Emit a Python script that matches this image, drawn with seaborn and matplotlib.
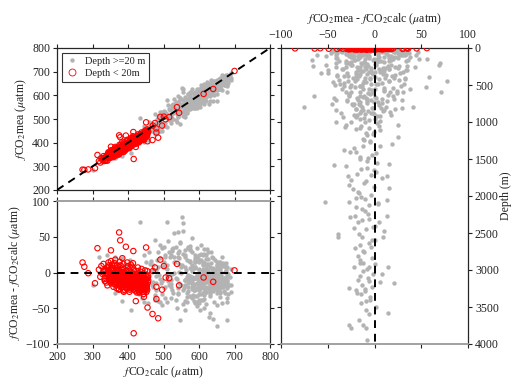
import numpy as np
import pandas as pd
import matplotlib
matplotlib.use("Agg")
import matplotlib.pyplot as plt
from matplotlib.lines import Line2D
import seaborn as sns

# gray points: depth >= 20 m  (fCO2calc, fCO2mea - fCO2calc, depth)
gray_calc = [
    600, 620, 575, 640, 590, 655, 610, 668, 585, 630,
    600, 560, 660, 645, 615, 625, 635, 600, 650, 605,
    660, 612, 640, 670, 655, 620, 600, 680, 615, 645,
    590, 630, 665, 600, 575, 560, 690, 650, 620, 640,
    660, 610, 590, 675, 655, 630, 600, 645, 665, 575,
    640, 610, 595, 660, 625, 585, 600, 645, 630, 680,
    655, 610, 570, 640, 600, 640, 650, 600, 680, 660,
    615, 530, 509, 546, 580, 520, 600, 610, 565, 620,
    551, 554, 542, 620, 632, 613, 520, 560, 600, 575,
    590, 640, 620, 650, 600, 680, 640, 670, 610, 590,
    655, 625, 660, 600, 675, 640, 585, 605, 580, 560,
    540, 530, 570, 510, 600, 545, 630, 645, 615, 590,
    546, 678, 627, 603, 514, 556, 434, 570, 580, 476,
    542, 546, 490, 594, 613, 622, 528, 537, 565, 594,
    664, 641, 509, 490, 674, 678, 495, 317, 364, 406,
    382, 340, 364, 382, 409, 444, 300, 429, 476, 485,
    330, 345, 360, 375, 390, 405, 420, 435, 450, 460,
    470, 480, 490, 500, 510, 520, 530, 540, 550, 560,
    470, 485, 495, 505, 515, 525, 535, 545, 555, 565,
    450, 440, 460, 475, 500, 520, 540, 560, 580, 600,
    590, 610, 620, 630, 640, 650, 660, 670, 680, 690,
    370, 395, 415, 430, 445, 455, 465, 480, 495, 510,
    560, 580, 600, 620, 640, 660, 680, 570, 590, 610,
    630, 650, 670, 590, 610, 630, 650, 670, 600, 620,
    640, 660, 580, 600, 650, 575, 595, 615, 635, 655,
    455, 462, 468, 473, 478, 483, 488, 493, 498, 503,
    508, 513, 518, 523, 528, 533, 538, 543, 548, 553,
    558, 563, 568, 573, 578, 583, 588, 593, 598, 603,
    608, 613, 618, 623, 628, 633, 638, 643, 648, 653,
    658, 663, 668, 673, 678, 683, 688, 612, 622, 632,
    642, 652, 662, 672, 682, 505, 515, 525, 535, 545,
    555, 565, 575, 585, 595, 605, 615, 625, 635, 645,
    655, 665, 675, 685, 460, 470, 480, 490, 500, 510,
    520, 530, 540, 550, 560, 570, 580, 590, 600, 610,
    620, 630, 640, 650, 660, 670, 680, 590, 600, 610,
    620, 630, 640, 650, 660, 670, 580, 590, 600, 610,
    620, 630, 640, 650, 560, 570, 580, 590, 600, 610,
    620, 630, 640, 650, 660, 610, 600, 590, 580, 570,
    600, 620, 640, 660, 580, 600, 620, 640, 660, 600,
    620, 640, 580, 600, 620, 640, 660, 600, 620, 640,
    430, 445, 455, 465, 475, 485, 495, 505, 515, 525,
    535, 545, 555, 565, 575, 585, 595, 605, 615, 625,
    600, 615, 630, 645, 660, 590, 605, 620, 635, 650,
    665, 580, 595, 610, 625, 640, 655, 670, 600, 615,
    630, 645, 660, 575, 590, 605, 620, 635, 650, 665,
    600, 620, 640, 660, 580, 610, 630, 650, 670, 690,
    560, 575, 590, 605, 620, 635, 650, 665, 680, 570,
]
gray_diff = [
    25, 19, -33, -26, -43, 15, -28, 13, -25, -27,
    15, -53, -27, -20, 13, -21, 13, -18, 5, -39,
    10, -39, -13, 9, -15, -4, -18, -15, -22, -6,
    14, 8, -18, -6, 6, 21, -27, -20, -10, -5,
    -9, 2, 14, -6, -27, -25, -12, -9, -8, -5,
    -12, -3, -15, -8, 2, -18, -6, -10, 0, -12,
    -2, -14, -20, 5, -9, -65, -75, -43, -41, -34,
    -32, 55, 71, 41, 29, 24, 17, 25, -29, 6,
    78, 58, 27, -44, -57, -50, -20, -10, 5, 15,
    -25, -15, 0, 10, -30, -5, 20, -18, -8, 8,
    -22, 12, -12, -2, 3, -15, -25, 18, -35, 32,
    -28, 22, -6, 10, -38, 30, -12, 2, -20, 6,
    -67, -66, -62, -52, 44, 69, 70, 34, 48, 46,
    56, 43, 38, 34, 33, 33, 34, -50, -41, -41,
    -42, -41, -41, -41, -29, -19, 34, 22, 22, 18,
    20, 25, -29, -40, -52, -41, -17, -22, -31, -40,
    -10, -5, -15, -20, -8, -25, -18, -12, -28, -5,
    10, -15, 20, -22, 5, -10, 15, -30, 0, 25,
    -20, 8, -30, 25, -18, 30, -8, 12, -25, 18,
    15, -35, 28, -38, 35, -35, 22, -18, 10, -25,
    18, -10, 25, -30, 5, -15, 15, -8, -22, 5,
    5, 10, -2, 0, -10, -15, 2, -5, -12, -2,
    -10, 5, -20, 12, -5, -28, 8, -15, 20, -3,
    -25, 14, -12, -8, 4, -16, -2, 9, -10, -20,
    -6, 3, -14, -1, -8, 16, -33, 26, -4, -16,
    -8, 12, -18, 3, -25, 18, -4, -14, 9, -20,
    6, -12, 22, -2, -28, 14, -9, 1, -17, 11,
    -22, 4, -6, 16, -13, -31, 8, -3, 19, -19,
    -11, 2, -26, 10, -7, -16, 21, -1, -23, 7,
    -14, -4, -20, 1, -10, -30, -6, 12, -8, -18,
    3, -24, 9, -12, -2, -36, 28, -24, 36, -14,
    26, -34, 31, -40, 21, -21, -37, 28, -12, 17,
    -27, -9, 13, -17, -3, -13, 4, -9, 14, -6,
    -16, -1, -21, 7, -11, -26, 2, -7, -19, 11,
    -4, -14, 6, -29, -8, -17, 0, -23, -5, 15,
    -9, -33, 4, -13, -21, 10, -6, 24, -15, -2,
    -27, -11, 1, -19, 8, -4, -16, -8, -24, 5,
    -13, -3, -20, 10, -7, -15, -1, -22, 6, -11,
    -16, -2, -11, 6, -20, -7, 3, -14, -4, -9,
    -1, -17, -10, 4, -13, -6, -22, -3, -12, 1,
    -30, 24, -42, 16, -36, 29, -45, 21, -3, 33,
    -38, 20, -44, -6, 37, -16, -47, 26, -27, 19,
    -12, -5, -22, 2, -16, -8, -30, -1, -19, 8,
    -11, -23, -4, -14, 4, -20, -7, -26, -13, -2,
    -9, -17, 1, -6, -21, -11, -3, -15, -8, -12,
    -16, -7, -13, -3, -10, -19, -5, -14, -9, -17,
    -40, 33, -33, 38, -27, 29, -45, 22, -36, 35,
]
gray_depth = [
    1200, 1300, 1385, 1410, 1580, 1570, 1725, 1725, 1785, 1850,
    1890, 2075, 2075, 2030, 2050, 2270, 2270, 2350, 2355, 2510,
    2475, 2560, 2550, 2550, 2660, 2685, 2810, 2865, 2955, 2965,
    2955, 3055, 3135, 3155, 3165, 3180, 3245, 3270, 3260, 3360,
    3415, 3500, 3580, 3600, 3740, 3790, 3745, 3780, 3945, 1250,
    1330, 1450, 1500, 1620, 1680, 1950, 2120, 2200, 2400, 2900,
    3050, 3330, 1100, 1050, 1150, 648, 793, 680, 838, 928,
    1072, 522, 600, 793, 815, 612, 860, 1040, 700, 1110,
    440, 387, 342, 455, 342, 342, 350, 400, 420, 450,
    500, 520, 560, 580, 600, 620, 650, 700, 720, 740,
    760, 800, 840, 880, 920, 960, 1000, 900, 550, 480,
    380, 360, 330, 310, 430, 600, 470, 680, 820, 980,
    162, 243, 95, 230, 95, 230, 207, 297, 150, 60,
    150, 260, 120, 180, 90, 400, 60, 300, 250, 700,
    500, 1000, 140, 200, 720, 900, 75, 40, 50, 30,
    45, 35, 80, 70, 110, 90, 25, 40, 60, 130,
    30, 45, 25, 60, 35, 80, 50, 100, 70, 40,
    120, 90, 150, 110, 60, 200, 130, 170, 220, 140,
    30, 55, 85, 65, 45, 100, 75, 35, 115, 160,
    25, 55, 95, 180, 240, 280, 260, 300, 190, 230,
    110, 150, 270, 200, 170, 250, 290, 210, 160, 120,
    20, 28, 32, 22, 38, 26, 48, 24, 36, 28,
    260, 290, 330, 370, 410, 440, 470, 510, 540, 570,
    600, 630, 660, 690, 730, 770, 810, 850, 890, 930,
    970, 1010, 1060, 1130, 1180, 280, 380, 430, 480, 350,
    35, 70, 110, 150, 190, 230, 270, 310, 350, 390,
    45, 85, 125, 165, 205, 245, 285, 325, 365, 405,
    55, 95, 135, 175, 215, 255, 295, 335, 375, 415,
    445, 485, 525, 565, 605, 645, 685, 725, 765, 805,
    845, 885, 925, 965, 1005, 1045, 1085, 65, 105, 145,
    185, 225, 265, 305, 345, 40, 80, 120, 160, 200,
    240, 280, 320, 360, 400, 440, 480, 520, 560, 600,
    640, 680, 720, 760, 25, 42, 58, 75, 92, 108,
    125, 142, 158, 175, 192, 208, 225, 242, 258, 275,
    292, 308, 325, 342, 358, 375, 392, 408, 425, 442,
    458, 475, 492, 508, 525, 542, 558, 575, 592, 608,
    625, 642, 658, 675, 692, 708, 725, 742, 758, 775,
    792, 808, 825, 842, 858, 875, 892, 908, 925, 942,
    1080, 1160, 1240, 1320, 1400, 1480, 1560, 1640, 1720, 1800,
    1880, 1960, 2040, 2110, 2180, 2310, 2430, 2600, 2740, 2920,
    22, 33, 44, 27, 38, 49, 31, 52, 24, 66,
    28, 41, 36, 57, 72, 48, 63, 88, 102, 118,
    1230, 1270, 1350, 1420, 1470, 1530, 1600, 1650, 1700, 1760,
    1820, 1900, 1980, 2010, 2100, 2150, 2240, 2290, 2330, 2420,
    2450, 2520, 2600, 2640, 2700, 2760, 2840, 2900, 2990, 3020,
    3080, 3110, 3200, 3230, 3290, 3310, 3400, 3450, 3540, 3680,
    380, 420, 520, 560, 650, 700, 760, 820, 880, 300,
]

# red points: depth < 20 m
red_calc = [
    375, 378, 314, 394, 451, 415, 352, 272, 277, 288,
    307, 331, 491, 501, 538, 506, 516, 544, 613, 640,
    700, 480, 496, 470, 476, 480, 455, 469, 485, 422,
    416, 445, 430, 388, 375, 361,
    318, 322, 325, 328, 331, 334, 337, 339,
    341, 343, 345, 347, 349, 342, 346, 348,
    351, 353, 355, 357, 359, 352, 356, 358,
    361, 363, 365, 367, 369, 362, 366, 368, 364,
    371, 373, 375, 377, 379, 372, 376, 378, 374,
    381, 383, 385, 387, 389, 382, 386, 388, 384,
    391, 393, 395, 397, 399, 392, 396, 398, 394,
    401, 403, 405, 407, 409, 402, 406, 408, 404,
    411, 413, 415, 417, 419, 412, 416, 418, 414,
    421, 423, 425, 427, 429, 422, 426, 428, 424,
    431, 433, 435, 437, 439, 432, 436, 438, 434,
    441, 443, 445, 447, 449, 442, 446, 448, 444,
    451, 453, 455, 452, 454, 456,
    340, 344, 348, 352, 356, 360, 364, 368, 372, 376,
    380, 384, 388, 392, 396, 400, 404, 408, 412, 416,
    420, 424, 428, 432, 436, 440, 444, 448, 452, 456,
    343, 349, 355, 361, 367, 373, 379, 385, 391, 397,
    403, 409, 415, 421, 427, 433, 439, 445, 451, 457,
    358, 364, 370, 376, 382, 388, 394, 400, 406, 412,
    418, 424, 430, 436, 442, 448, 454, 410, 420, 430,
    335, 346, 353, 366, 371, 381, 390, 398, 405, 414,
    425, 435, 444, 450, 440, 428, 417, 402, 395, 386,
    362, 368, 374, 380, 386, 392, 398, 404, 410, 416,
    422, 428, 434, 440, 446, 452, 350, 356, 384, 396,
    407, 413, 419, 425, 431, 437, 443, 449, 400, 432,
    345, 357, 369, 381, 393, 405, 417, 429, 441, 453,
    370, 378, 388, 398, 408, 418, 428, 438, 448, 426,
    333, 339, 347, 355, 363, 371, 379, 387, 395, 403,
]
red_diff = [
    56, 45, 34, 36, 35, 30, 31, 14, 8, -1,
    -15, 3, 18, 9, 12, -7, -8, -18, -7, -13,
    3, -20, -24, 2, 7, -37, -49, -58, -64, -40,
    -85, -34, -27, -27, -23, -16,
    4, -6, 9, -2, 12, -9, 3, -14,
    7, -4, 14, -11, 1, -18, 10, -7,
    5, -13, 11, -2, -20, 16, -8, 2,
    -5, 9, -17, 4, -10, 13, -1, -22, 18,
    6, -12, 0, -19, 10, -6, 15, -3, -24,
    -8, 4, -15, 12, -1, -21, 7, -11, 20,
    -5, -18, 3, -10, 9, -25, -2, 14, -13,
    -7, 1, -16, 6, -22, -12, -3, 11, -27,
    -9, -1, -19, 4, -13, 8, -24, -5, 13,
    -11, -3, -18, 2, -8, -26, -14, 7, -21,
    -6, -16, 1, -22, -10, -28, -3, 5, -13,
    -8, -18, -1, -25, -12, -4, -20, 3, -30,
    -10, -19, -4, -27, 2, -14,
    -1, 8, -6, -15, 3, -9, 1, -4, -13, 4,
    -17, -6, 1, -9, -20, -3, -10, -19, -2, -16,
    -6, -12, -23, -8, -18, -15, -9, -22, -17, -7,
    2, -12, 6, -3, -14, -9, -5, -10, -7, 0,
    -19, -6, -10, -15, -20, -5, -17, -14, -21, -11,
    -9, -7, 10, -8, -12, -4, -16, -12, -8, -21,
    -9, -17, -13, -25, -11, -16, -24, -15, -4, -19,
    -12, -2, -10, -13, 2, -2, -13, -15, -24, -11,
    -28, -9, -27, -4, -23, -2, -11, -13, -6, -25,
    -4, -10, -7, -3, -13, -11, -8, -17, -12, -7,
    -15, -10, -20, -12, -17, -9, 0, -5, -9, -15,
    -14, -21, -16, -13, -8, -18, -24, -14, -8, -25,
    4, -10, -5, -6, -4, -10, -14, -11, -6, -22,
    -16, -8, -18, -22, -18, -20, -18, -12, -9, -5,
    1, -5, -8, -11, -14, 2, -16, -1, -22, -4,
]
red_depth = [
    2, 5, 1, 8, 3, 12, 6, 0, 4, 10,
    15, 7, 3, 18, 9, 1, 11, 5, 14, 2,
    6, 13, 4, 8, 16, 0, 10, 3, 7, 12,
    5, 9, 1, 17, 4, 11,
    3, 8, 0, 14, 6, 2, 10, 5,
    12, 1, 7, 4, 16, 9, 3, 11,
    0, 6, 13, 2, 8, 5, 18, 1,
    9, 4, 15, 7, 0, 11, 3, 6, 13,
    2, 10, 5, 17, 8, 1, 12, 4, 6,
    14, 3, 9, 0, 7, 11, 2, 16, 5,
    8, 1, 13, 4, 10, 6, 15, 2, 9,
    3, 12, 0, 7, 18, 5, 11, 1, 8,
    6, 14, 2, 9, 4, 13, 0, 10, 7,
    1, 8, 12, 5, 15, 3, 9, 6, 11,
    4, 0, 10, 7, 2, 16, 5, 13, 8,
    9, 3, 6, 14, 1, 11, 7, 0, 12,
    5, 10, 2, 8, 15, 4,
    7, 2, 13, 5, 0, 10, 16, 3, 8, 12,
    1, 9, 4, 14, 6, 11, 2, 17, 5, 0,
    10, 6, 3, 12, 8, 1, 15, 4, 9, 13,
    2, 11, 7, 0, 16, 5, 10, 3, 14, 6,
    8, 1, 12, 4, 9, 17, 2, 6, 11, 3,
    15, 0, 7, 10, 5, 13, 1, 8, 4, 12,
    6, 9, 2, 14, 0, 11, 5, 16, 3, 7,
    10, 4, 13, 1, 8, 6, 12, 2, 9, 15,
    3, 7, 0, 11, 5, 14, 1, 10, 6, 8,
    4, 11, 2, 9, 15, 0, 7, 13, 5, 10,
    1, 8, 14, 3, 12, 6, 17, 2, 9, 4,
    11, 0, 6, 13, 8, 3, 10, 15, 1, 7,
    5, 12, 2, 9, 16, 4, 11, 0, 8, 14,
    3, 10, 6, 1, 13, 7, 2, 12, 5, 9,
    8, 0, 15, 4, 11, 6, 1, 10, 3, 13,
]

calc_ticks = [200, 300, 400, 500, 600, 700, 800]
diff_ticks = [-100, -50, 0, 50, 100]
depth_ticks = [0, 500, 1000, 1500, 2000, 2500, 3000, 3500, 4000]

gray = pd.DataFrame({"calc": gray_calc, "diff": gray_diff, "depth": gray_depth})
gray["mea"] = gray["calc"] + gray["diff"]
red = pd.DataFrame({"calc": red_calc, "diff": red_diff, "depth": red_depth})
red["mea"] = red["calc"] + red["diff"]

sns.set_style("ticks")
plt.rcParams["font.family"] = ["Liberation Serif", "DejaVu Serif"]
plt.rcParams["mathtext.fontset"] = "stix"
plt.rcParams["font.size"] = 8.5
plt.rcParams["text.color"] = "#222222"
plt.rcParams["axes.labelcolor"] = "#222222"
plt.rcParams["xtick.color"] = "#222222"
plt.rcParams["ytick.color"] = "#222222"

GRAY = "#b3b3b3"
RED = "#ff0000"
gray_kw = dict(color=GRAY, s=10, linewidth=0, zorder=2)
red_kw = dict(facecolor="none", edgecolor=RED, s=15, linewidth=0.8, marker="o", zorder=3)
dash_kw = dict(color="black", linestyle=(0, (4, 3)), linewidth=1.4, zorder=4)

fig = plt.figure(figsize=(5.12, 3.79), dpi=100)
ax1 = fig.add_axes([57 / 512, 1 - 190 / 379, 213 / 512, 142 / 379])
ax2 = fig.add_axes([57 / 512, 1 - 344 / 379, 213 / 512, 143 / 379])
ax3 = fig.add_axes([281 / 512, 1 - 344 / 379, 187 / 512, 296 / 379])

lab_calc = r"$f$CO$_2$calc ($\mu$atm)"
lab_mea = r"$f$CO$_2$mea ($\mu$atm)"
lab_diff = r"$f$CO$_2$mea - $f$CO$_2$calc ($\mu$atm)"

# top-left: measured vs calculated
sns.scatterplot(data=gray, x="calc", y="mea", ax=ax1, **gray_kw)
sns.scatterplot(data=red, x="calc", y="mea", ax=ax1, **red_kw)
ax1.plot(calc_ticks[::6], calc_ticks[::6], **dash_kw)
ax1.set_xlim(200, 800)
ax1.set_ylim(200, 800)
ax1.set_xticks(calc_ticks)
ax1.set_yticks(calc_ticks)
ax1.set_xlabel("")
ax1.set_ylabel(lab_mea, labelpad=2)
ax1.tick_params(top=True, right=True, labelbottom=False)
handles = [
    Line2D([], [], linestyle="none", marker="o", markersize=3.2,
           markerfacecolor=GRAY, markeredgewidth=0),
    Line2D([], [], linestyle="none", marker="o", markersize=5,
           markerfacecolor="none", markeredgecolor=RED, markeredgewidth=0.6),
]
leg = ax1.legend(handles, ["Depth >=20 m", "Depth < 20m"], loc="upper left",
                 fontsize=7.5, frameon=True, fancybox=False, framealpha=1,
                 edgecolor="#333333", borderaxespad=0.5, handletextpad=0.6,
                 borderpad=0.35, labelspacing=0.25, handlelength=1.2)
leg.get_frame().set_linewidth(0.8)

# bottom-left: difference vs calculated
sns.scatterplot(data=gray, x="calc", y="diff", ax=ax2, **gray_kw)
sns.scatterplot(data=red, x="calc", y="diff", ax=ax2, **red_kw)
ax2.axhline(0, **dash_kw)
ax2.set_xlim(200, 800)
ax2.set_ylim(-100, 100)
ax2.set_xticks(calc_ticks)
ax2.set_yticks(diff_ticks)
ax2.set_xlabel(lab_calc, labelpad=1)
ax2.set_ylabel(lab_diff, labelpad=2)
ax2.tick_params(top=True, right=True)
ax2.spines["top"].set_color("#9a9a9a")
ax2.spines["bottom"].set_color("#9a9a9a")
ax2.spines["top"].set_linewidth(1.3)
ax2.spines["bottom"].set_linewidth(1.3)

# right: difference vs depth
sns.scatterplot(data=gray, x="diff", y="depth", ax=ax3, **gray_kw)
sns.scatterplot(data=red, x="diff", y="depth", ax=ax3, **red_kw)
ax3.plot([0, 0], depth_ticks[::8], **dash_kw)
ax3.set_xlim(-100, 100)
ax3.set_ylim(4000, 0)
ax3.set_xticks(diff_ticks)
ax3.set_yticks(depth_ticks)
ax3.xaxis.set_label_position("top")
ax3.yaxis.set_label_position("right")
ax3.set_xlabel(lab_diff, labelpad=5)
ax3.set_ylabel("Depth (m)", labelpad=1)
ax3.tick_params(top=True, bottom=True, left=True, right=True,
                labeltop=True, labelbottom=False, labelleft=False, labelright=True)
ax3.spines["bottom"].set_color("#9a9a9a")
ax3.spines["bottom"].set_linewidth(1.3)

for ax in (ax1, ax2, ax3):
    ax.tick_params(direction="out", length=3, width=0.8, pad=2, labelsize=8.5)
    for side in ("left", "right"):
        ax.spines[side].set_linewidth(0.9)
    ax.spines["top"].set_visible(True)
    ax.spines["right"].set_visible(True)
ax1.spines["top"].set_linewidth(0.9)
ax1.spines["bottom"].set_linewidth(0.9)
ax3.spines["top"].set_linewidth(0.9)

fig.savefig("out.png", dpi=100)
